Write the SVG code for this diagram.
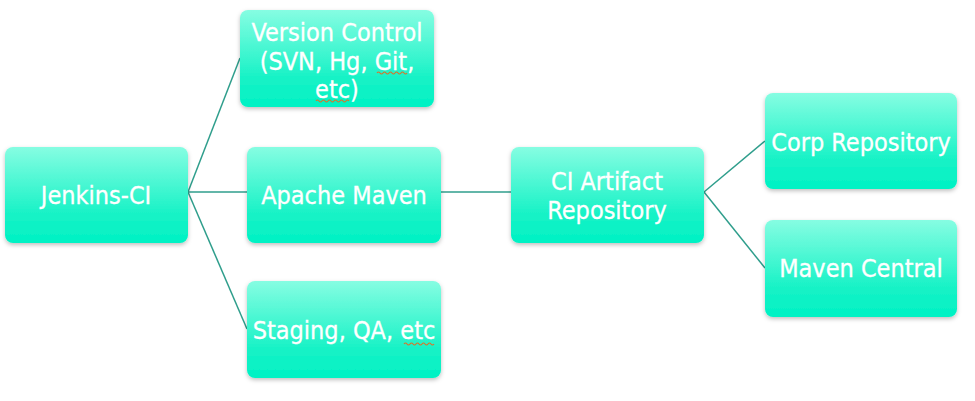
<svg xmlns="http://www.w3.org/2000/svg" width="975" height="401" viewBox="0 0 975 401">
<defs>
<linearGradient id="g" x1="0" y1="0" x2="0" y2="1">
<stop offset="0" stop-color="#86fde2"/>
<stop offset="0.7" stop-color="#17f2c6"/>
<stop offset="1" stop-color="#00f2c4"/>
</linearGradient>
<filter id="sh" x="-10%" y="-10%" width="120%" height="130%">
<feDropShadow dx="0" dy="2" stdDeviation="2" flood-color="#000" flood-opacity="0.25"/>
</filter>
</defs>
<style>
.box{fill:url(#g);filter:url(#sh)}
.t{font-family:"DejaVu Sans Condensed","DejaVu Sans",sans-serif;font-size:25px;fill:#fff;stroke:#fff;stroke-width:0.3;text-anchor:middle}
.c{stroke:#2f9e8c;stroke-width:1.5;fill:none}
.sq{stroke:#d8742c;stroke-width:1.2;fill:none}
</style>
<rect width="975" height="401" fill="#fff"/>
<g id="connectors">
<line class="c" x1="188" y1="192" x2="240" y2="58"/>
<line class="c" x1="188" y1="192" x2="247" y2="192"/>
<line class="c" x1="188" y1="192" x2="247" y2="329"/>
<line class="c" x1="441" y1="192" x2="511" y2="192"/>
<line class="c" x1="704" y1="192" x2="765" y2="141"/>
<line class="c" x1="704" y1="192" x2="765" y2="268"/>
</g>
<g id="jenkins">
<rect class="box" x="5" y="147" width="183" height="96" rx="8"/>
<text class="t" x="96" y="204">Jenkins-CI</text>
</g>
<g id="version-control">
<rect class="box" x="240" y="10" width="194" height="97" rx="8"/>
<text class="t" x="337" y="41">Version Control</text>
<text class="t" x="337" y="70">(SVN, Hg, Git,</text>
<text class="t" x="337" y="98">etc)</text>
<path class="sq" d="M377 73 q1.5 -2 3 0 t3 0 t3 0 t3 0 t3 0 t3 0 t3 0 t3 0 t3 0 t3 0"/>
<path class="sq" d="M316 101 q1.5 -2 3 0 t3 0 t3 0 t3 0 t3 0 t3 0 t3 0 t3 0 t3 0 t3 0 t3 0"/>
</g>
<g id="apache-maven">
<rect class="box" x="247" y="147" width="194" height="96" rx="8"/>
<text class="t" x="344" y="204">Apache Maven</text>
</g>
<g id="staging">
<rect class="box" x="247" y="281" width="194" height="97" rx="8"/>
<text class="t" x="344" y="339">Staging, QA, etc</text>
<path class="sq" d="M404 344 q1.5 -2 3 0 t3 0 t3 0 t3 0 t3 0 t3 0 t3 0 t3 0 t3 0 t3 0"/>
</g>
<g id="ci-artifact">
<rect class="box" x="511" y="147" width="193" height="96" rx="8"/>
<text class="t" x="607" y="190">CI Artifact</text>
<text class="t" x="607" y="219">Repository</text>
</g>
<g id="corp-repo">
<rect class="box" x="765" y="93" width="192" height="96" rx="8"/>
<text class="t" x="861" y="151">Corp Repository</text>
</g>
<g id="maven-central">
<rect class="box" x="765" y="220" width="192" height="97" rx="8"/>
<text class="t" x="861" y="277">Maven Central</text>
</g>
</svg>
